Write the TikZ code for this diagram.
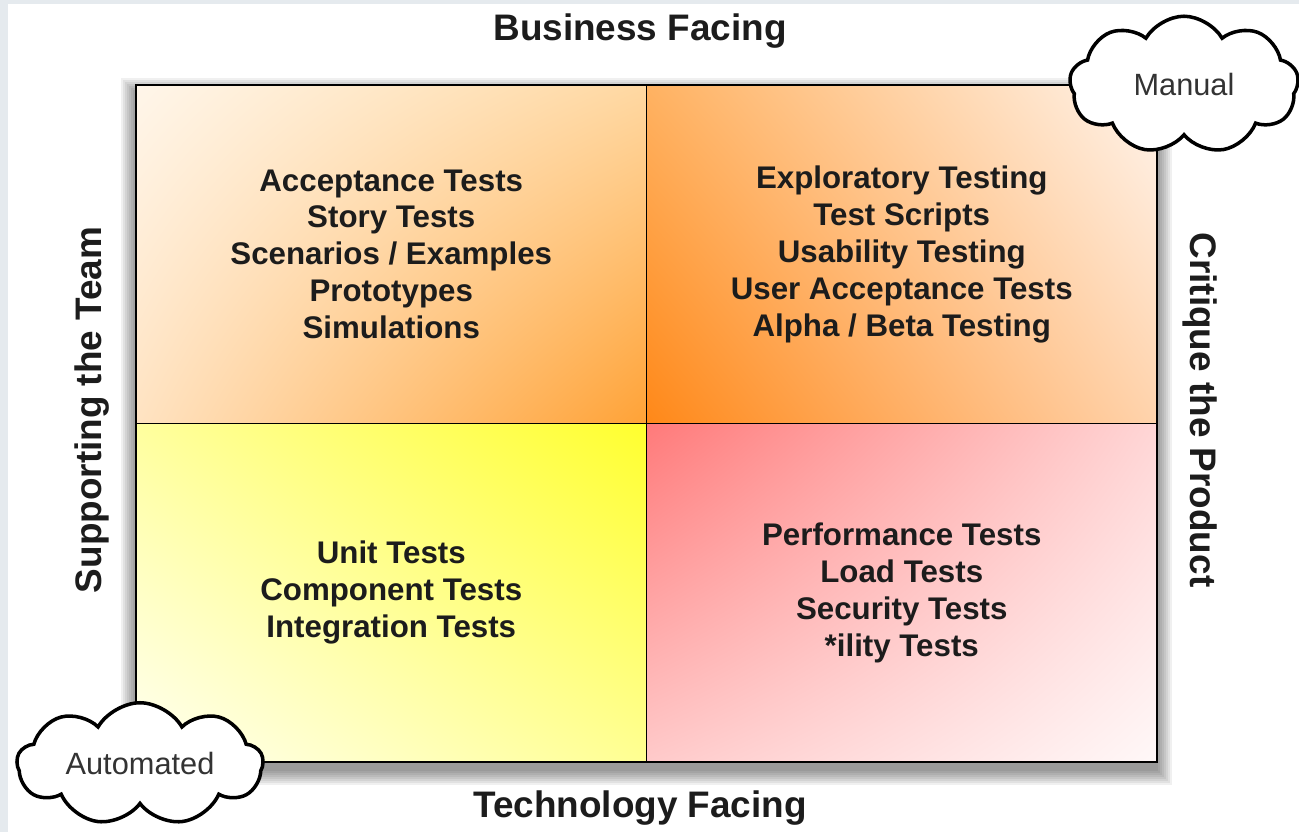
\documentclass[tikz,border=0pt]{standalone}
\usepackage{fontspec}
\setmainfont{Liberation Sans}
\usetikzlibrary{positioning,shapes.symbols,shadings,calc,backgrounds}

\definecolor{pagegrey}{HTML}{E5EAEE}
\definecolor{inkblack}{HTML}{1C1C1C}
\definecolor{cloudtext}{HTML}{333333}
% corner colours of the quadrants
\definecolor{tlA}{HTML}{FFF6EA}
\definecolor{tlB}{HTML}{FFD8A2}
\definecolor{tlC}{HTML}{FFE3C2}
\definecolor{tlD}{HTML}{FFA236}
\definecolor{trA}{HTML}{FFB262}
\definecolor{trB}{HTML}{FFF4EC}
\definecolor{trC}{HTML}{FF8818}
\definecolor{trD}{HTML}{FFD3AC}
\definecolor{blA}{HTML}{FFFF9E}
\definecolor{blB}{HTML}{FFFF2E}
\definecolor{blC}{HTML}{FFFFF2}
\definecolor{blD}{HTML}{FFFF92}
\definecolor{brA}{HTML}{FF7A7A}
\definecolor{brB}{HTML}{FFD6D6}
\definecolor{brC}{HTML}{FFCACA}
\definecolor{brD}{HTML}{FFF8F8}

\tikzset{
  quadrant/.style={draw, minimum width=10.21cm, minimum height=6.77cm,
    inner sep=0pt, outer sep=0pt, align=center, text=inkblack,
    font=\fontsize{17.8}{21}\selectfont\bfseries},
  axislabel/.style={text=inkblack, font=\fontsize{21}{25}\selectfont\bfseries},
  bubble/.style={cloud, cloud puffs=9, cloud puff arc=120, cloud ignores aspect,
    draw, line width=2pt, fill=white, inner sep=0pt, text=cloudtext,
    font=\fontsize{17.5}{20}\selectfont}
}

\begin{document}
\begin{tikzpicture}
\useasboundingbox (0,0) rectangle (25.98,16.64);
% the four quadrants
\node[quadrant, upper left=tlA, upper right=tlB, lower left=tlC, lower right=tlD] (tl) at (7.825,11.555)
  {Acceptance Tests\\Story Tests\\Scenarios / Examples\\Prototypes\\Simulations};
\node[quadrant, upper left=trA, upper right=trB, lower left=trC, lower right=trD, right=0pt of tl] (tr)
  {Exploratory Testing\\Test Scripts\\Usability Testing\\User Acceptance Tests\\Alpha / Beta Testing};
\node[quadrant, upper left=blA, upper right=blB, lower left=blC, lower right=blD, below=0pt of tl] (bl)
  {Unit Tests\\Component Tests\\Integration Tests};
\node[quadrant, upper left=brA, upper right=brB, lower left=brC, lower right=brD, below=0pt of tr] (br)
  {Performance Tests\\Load Tests\\Security Tests\\*ility Tests};
\draw[line width=1.2pt] (bl.south west) rectangle (tr.north east);

% axis labels
\node[axislabel] (business) at (12.8,16.02) {Business Facing};
\node[axislabel] (technology) at (12.8,0.48) {Technology Facing};
\node[axislabel, rotate=90] (supporting) at (1.84,8.44) {Supporting the Team};
\node[axislabel, rotate=-90] (critique) at (24.0,8.44) {Critique the Product};

% clouds
\node[bubble, minimum width=4.58cm, minimum height=2.75cm] (manual) at (23.68,14.94) {Manual};
\node[bubble, minimum width=4.92cm, minimum height=2.45cm] (automated) at (2.80,1.36) {Automated};

% page and shadow
\begin{pgfonlayer}{background}
\fill[pagegrey] (0,0) rectangle (25.98,16.64);
\fill[white] (0.16,0) rectangle (25.98,16.56);
\foreach \e in {0.02,0.06,...,0.3}
  \fill[black, opacity=0.06] ($(bl.south west)+(-\e,-0.16-\e)$) rectangle ($(tr.north east)+(\e,-0.16+\e)$);
\end{pgfonlayer}
\end{tikzpicture}
\end{document}
